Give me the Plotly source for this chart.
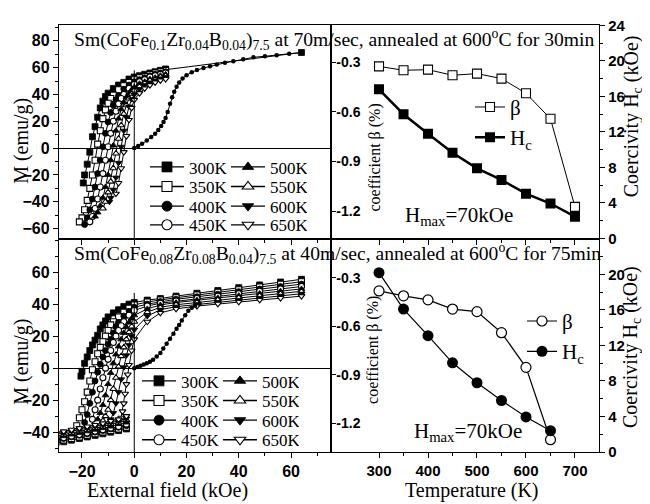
import plotly.graph_objects as go

SERIF = "Liberation Serif"
SANS = "Liberation Sans"

temps = ["300K", "350K", "400K", "450K", "500K", "550K", "600K", "650K"]
sym = ["square", "square", "circle", "circle", "triangle-up", "triangle-up", "triangle-down", "triangle-down"]
filled = [True, False, True, False, True, False, True, False]
legend_row = [0, 1, 2, 3, 0, 1, 2, 3]
legend_rank = [1, 1, 1, 1, 2, 2, 2, 2]

# ---------------- Top-left: 70 m/sec, 30 min -----------------
tl_H = {
    "300K": [64, 12, 10, 8, 6, 4, 2, 0, -2, -4, -6, -8, -10, -11, -12, -13, -14, -15, -16, -17, -18, -19, -19.5],
    "350K": [12, 10, 8, 6, 4, 2, 0, -2, -4, -6, -8, -9, -10, -11, -12, -13, -14, -15, -16, -17, -18, -19, -20, -21],
    "400K": [12, 10, 8, 6, 4, 2, 0, -2, -4, -6, -7, -8, -9, -10, -11, -12, -13, -14, -15, -16, -17, -18, -19],
    "450K": [12, 10, 8, 6, 4, 2, 0, -2, -4, -5, -6, -7, -8, -9, -10, -11, -12, -13, -14, -15, -16, -17],
    "500K": [12, 10, 8, 6, 4, 2, 0, -1, -2, -3, -4, -5, -6, -7, -8, -9, -10, -11, -12, -13, -14, -15],
    "550K": [12, 10, 8, 6, 4, 2, 0, -1, -2, -3, -4, -5, -6, -7, -8, -9, -10, -11, -12],
    "600K": [12, 10, 8, 6, 4, 2, 0, -1, -2, -3, -4, -5, -6, -7, -8, -9, -9.5],
    "650K": [12, 10, 8, 6, 4, 2, 0, -1, -2, -3, -4, -5, -6, -7],
}
tl_M = {
    "300K": [71.3, 59, 58, 57, 56, 55, 54, 53, 51.5, 49, 47, 44.5, 41, 38.5, 35, 30, 23, 16, 8.5, -3, -12, -20, -26],
    "350K": [58, 57, 56, 55, 53.5, 52.5, 51, 49, 46.5, 43.5, 39.5, 37, 33.5, 28.5, 22, 13, 3, -9, -20, -30, -39, -46, -52, -55],
    "400K": [57, 56, 55, 54, 52.5, 51, 49.5, 47, 44, 39, 36, 32, 26.5, 19.5, 11, 1, -9, -19, -29, -38, -46, -52, -57],
    "450K": [56, 55, 54, 53, 51, 49.5, 47.5, 44.5, 40, 37, 33, 27.5, 20, 11, 1, -9, -19, -29, -38, -45, -51, -55],
    "500K": [55, 54, 52.5, 51.5, 49.5, 48, 45.5, 43.5, 41, 38, 34, 29, 22, 13, 2, -9, -20, -29, -37, -43, -48, -51],
    "550K": [54, 53, 51.5, 50.5, 48.5, 46, 43, 40.5, 37, 32, 25.5, 17, 7, -4, -15, -25, -33, -40, -45],
    "600K": [53, 52, 50.5, 49, 47, 44, 40, 36.5, 31, 23, 13, 1, -11, -22, -31, -37, -40],
    "650K": [51.5, 50.5, 49, 47, 44.5, 41, 36, 30, 21, 9, -3, -15, -26, -34],
}
tl_virgin_H = [0, 1.5, 3, 4.8, 6.5, 8, 9.2, 10.3, 11.2, 12, 12.8, 13.7, 14.5, 15.3, 16.2, 17.2, 18.5, 20, 22, 24,
               26.5, 29, 31.6, 34.7, 37.9, 41.7, 45.6, 50, 54.5, 59.3, 64.1]
tl_virgin_M = [0, 1.5, 3.2, 5.6, 8.2, 10.8, 13.5, 16.5, 19.5, 22.5, 27, 33, 38, 42, 45.8, 49, 52, 54.3, 56.5, 58.2,
               59.7, 61, 62.3, 63.6, 64.7, 66.2, 67.7, 68.5, 69.3, 70.3, 71.3]

# ---------------- Bottom-left: 40 m/sec, 75 min -----------------
bl_H = {
    "300K": [64, 56, 48, 40, 32, 24, 16, 10, 5, 0, -2, -4, -6, -8, -10, -11, -12, -13, -14, -15, -16, -17, -18, -19, -20, -20.4],
    "350K": [64, 56, 48, 40, 32, 24, 16, 10, 5, 0, -2, -4, -6, -8, -9, -10, -11, -12, -13, -14, -15, -16, -17, -18, -19, -20, -21, -22],
    "400K": [64, 56, 48, 40, 32, 24, 16, 10, 5, 0, -2, -4, -6, -7, -8, -9, -10, -11, -12, -13, -14, -15, -16, -17, -18, -19],
    "450K": [64, 56, 48, 40, 32, 24, 16, 10, 5, 0, -2, -4, -5, -6, -7, -8, -9, -10, -11, -12, -13, -14, -15, -16],
    "500K": [64, 56, 48, 40, 32, 24, 16, 10, 5, 0, -1, -2, -3, -4, -5, -6, -7, -8, -9, -10, -11, -12, -13, -14],
    "550K": [64, 56, 48, 40, 32, 24, 16, 10, 5, 0, -1, -2, -3, -4, -5, -6, -7, -8, -9, -10, -11, -12],
    "600K": [64, 56, 48, 40, 32, 24, 16, 10, 5, 0, -1, -2, -3, -4, -5, -6, -7, -8, -9],
    "650K": [64, 56, 48, 40, 32, 24, 16, 10, 5, 0, -1, -2, -2.5, -3, -3.5, -4, -4.5, -5],
}
bl_M = {
    "300K": [55.5, 53.8, 52, 50.3, 48.5, 46.8, 45, 43.5, 42.5, 41, 40, 38.5, 36.5, 34.5, 32, 29.5, 27, 24.5, 20.5, 17.5, 14.5, 11, 7, 3, -2, -5],
    "350K": [54, 52.4, 50.7, 49, 47.4, 45.7, 44, 42.6, 41.3, 39.5, 37.5, 35, 32, 29, 27, 23.5, 20, 16.5, 13, 9, 4, -1, -8, -15, -21, -26, -31, -36],
    "400K": [52.5, 51, 49.4, 47.8, 46.2, 44.6, 43, 41.6, 40, 38, 35.5, 32.5, 28.5, 26, 22, 18, 15, 11, 7, 2.5, -2.5, -8, -15, -22, -29, -34],
    "450K": [51, 49.5, 48, 46.5, 45, 43.5, 42, 40.6, 38.8, 36, 33, 29, 26.5, 23.5, 20, 16, 11, 5.5, 0, -6, -13, -20, -26, -32],
    "500K": [49.5, 48.1, 46.7, 45.3, 43.9, 42.5, 41, 39.5, 37, 33, 31, 28.5, 25.5, 22, 18, 13.5, 8.5, 3, -3, -10, -17, -23, -28, -32],
    "550K": [48, 46.6, 45.3, 44, 42.6, 41.2, 39.6, 38, 35, 29, 26, 22.5, 18, 13, 7.5, 1, -6, -13, -20, -26, -30, -33],
    "600K": [46.5, 45.2, 43.9, 42.6, 41.3, 40, 38.4, 36.5, 32.5, 24, 20, 14.5, 8, 0.5, -7, -15, -22, -28, -32],
    "650K": [45, 43.8, 42.6, 41.4, 40.2, 38.8, 37, 34.5, 29, 18, 11, 2, -4, -10, -16, -22, -27, -31],
}
bl_band_H = [-30, -27, -24, -21, -18, -15, -12, -9, -6, -3]
bl_band_M = {
    "300K": [-47, -46, -45, -44, -43, -42, -41, -40, -39, -38],
    "350K": [-46, -45, -44, -43, -42, -41, -40, -39, -38, -37],
    "400K": [-45, -44, -43, -42, -41, -40, -39, -38, -37, -36],
    "450K": [-44.5, -43.5, -42.5, -41.5, -40.5, -39.5, -38.5, -37.5, -36.5, -35],
    "500K": [-43.5, -42.5, -41.5, -40.5, -39.5, -38.5, -37.5, -36.5, -35, -34],
    "550K": [-42.5, -41.5, -40.5, -39.5, -38.5, -37.5, -36.5, -35, -34, -32.5],
    "600K": [-41.5, -40.5, -39.5, -38.5, -37.5, -36.5, -35.5, -34, -33, -31.5],
    "650K": [-40.5, -39.5, -38.5, -37.5, -36.5, -35.5, -34.5, -33, -32, -30],
}
bl_virgin_H = [0, 1.2, 2.4, 3.6, 4.8, 6, 7.2, 8.6, 10, 11.1, 12.4, 13.7, 15, 16.2, 17.2, 18.2, 19.5, 20.7, 22, 23.3, 25]
bl_virgin_M = [0, 0.7, 1.5, 2.3, 3.1, 4, 5.3, 7.2, 9.5, 12.3, 15.3, 18.4, 21.5, 24.6, 27, 29.7, 33, 35.9, 37.8, 39, 40.3]

# ---------------- Right panels -----------------
tr_T = [300, 350, 400, 450, 500, 550, 600, 650, 700]
tr_beta = [-0.325, -0.349, -0.345, -0.379, -0.369, -0.399, -0.488, -0.642, -1.175]
tr_hc = [16.8, 14.0, 11.8, 9.65, 7.9, 6.6, 5.05, 3.94, 2.46]
br_T = [300, 350, 400, 450, 500, 550, 600, 650]
br_beta = [-0.381, -0.411, -0.436, -0.493, -0.509, -0.639, -0.853, -1.30]
br_hc = [20.2, 16.1, 13.1, 10.05, 7.8, 5.8, 3.95, 2.4]

# tick labels
tl_yticks = [-60, -40, -20, 0, 20, 40, 60, 80]
bl_yticks = [-40, -20, 0, 20, 40, 60]
beta_ticks = [-1.2, -0.9, -0.6, -0.3]
beta_ticktext = ["-1.2", "-0.9", "-0.6", "-0.3"]
hc_top_ticks = [0, 4, 8, 12, 16, 20, 24]
hc_bot_ticks = [0, 4, 8, 12, 16, 20]
t_ticks = [300, 400, 500, 600, 700]

# axis ranges
tl_xr = [-28.8, 75.3]
tl_yr = [-67.4, 91.8]
bl_yr = [-52.4, 81.0]
r_xr = [202, 749]
tr_br = [-1.366, -0.075]
br_br = [-1.376, -0.057]
hc_r = [0, 24.05]
tl_vline_top = 58
bl_vline_top = 47

fig = go.Figure()


def marker(i, size):
    if filled[i]:
        return dict(symbol=sym[i], size=size, color="black", line=dict(color="black", width=0.8))
    return dict(symbol=sym[i], size=size, color="white", line=dict(color="black", width=1.1))


# Top-left loops
for i, t in enumerate(temps):
    fig.add_trace(go.Scatter(x=tl_H[t], y=tl_M[t], mode="lines+markers", xaxis="x", yaxis="y",
                             line=dict(color="black", width=1), marker=marker(i, 6), showlegend=False))
fig.add_trace(go.Scatter(x=tl_virgin_H, y=tl_virgin_M, mode="lines+markers", xaxis="x", yaxis="y",
                         line=dict(color="black", width=1), marker=dict(symbol="circle", size=4.5, color="black"),
                         showlegend=False))
# Bottom-left loops
for i, t in enumerate(temps):
    fig.add_trace(go.Scatter(x=bl_H[t] + [None] + bl_band_H, y=bl_M[t] + [None] + bl_band_M[t],
                             mode="lines+markers", xaxis="x3", yaxis="y4",
                             line=dict(color="black", width=1), marker=marker(i, 6), showlegend=False))
fig.add_trace(go.Scatter(x=bl_virgin_H, y=bl_virgin_M, mode="lines+markers", xaxis="x3", yaxis="y4",
                         line=dict(color="black", width=1), marker=dict(symbol="circle", size=4.5, color="black"),
                         showlegend=False))

# Legend entries for the loop panels (one small legend per row of the two-column key)
for i, t in enumerate(temps):
    for base, xa, ya in ((1, "x", "y"), (5, "x3", "y4")):
        n = base + legend_row[i]
        lname = "legend" if n == 1 else "legend%d" % n
        fig.add_trace(go.Scatter(x=[None], y=[None], mode="lines+markers", xaxis=xa, yaxis=ya,
                                 line=dict(color="black", width=1.3), marker=marker(i, 10),
                                 name=t, legend=lname, legendrank=legend_rank[i]))

# Top-right
fig.add_trace(go.Scatter(x=tr_T, y=tr_beta, mode="lines+markers", xaxis="x2", yaxis="y2", name="β",
                         line=dict(color="black", width=1),
                         marker=dict(symbol="square", size=9, color="white", line=dict(color="black", width=1.1)),
                         legend="legend9", legendrank=1))
fig.add_trace(go.Scatter(x=tr_T, y=tr_hc, mode="lines+markers", xaxis="x2", yaxis="y3", name="H<sub>c</sub>",
                         line=dict(color="black", width=2.5),
                         marker=dict(symbol="square", size=10, color="black"),
                         legend="legend9", legendrank=2))
# Bottom-right
fig.add_trace(go.Scatter(x=br_T, y=br_beta, mode="lines+markers", xaxis="x4", yaxis="y5", name="β",
                         line=dict(color="black", width=1.2),
                         marker=dict(symbol="circle", size=10, color="white", line=dict(color="black", width=1.2)),
                         legend="legend10", legendrank=1))
fig.add_trace(go.Scatter(x=br_T, y=br_hc, mode="lines+markers", xaxis="x4", yaxis="y6", name="H<sub>c</sub>",
                         line=dict(color="black", width=1.2),
                         marker=dict(symbol="circle", size=11, color="black"),
                         legend="legend10", legendrank=2))


def axis(**kw):
    d = dict(showline=True, linecolor="black", linewidth=1.3, mirror=True, ticks="outside", ticklen=5,
             tickwidth=1.2, tickcolor="black", showgrid=False, zeroline=False,
             tickfont=dict(family=SANS, size=16, color="black", weight="bold"))
    d.update(kw)
    return d


minor_l = dict(ticks="outside", ticklen=3, tickcolor="black", tickwidth=1, showgrid=False)
XS = 0.5037
PW, PH, PT, PB = 540, 435, 9, 52


def py(px_y):
    # page pixel (figure drawn 8px in from the page corner) -> paper fraction
    return (452 - px_y) / PH


def px(px_x):
    return (px_x - 59) / PW


def row_legend(x_px, y_px, size=17):
    return dict(x=px(x_px), y=py(y_px), xanchor="left", yanchor="middle", bgcolor="rgba(0,0,0,0)",
                borderwidth=0, font=dict(family=SERIF, size=size, color="black"), orientation="h",
                traceorder="normal", entrywidth=32, entrywidthmode="pixels", itemwidth=34)


def col_legend(x_px, y_px, size=21):
    return dict(x=px(x_px), y=py(y_px), xanchor="left", yanchor="top", bgcolor="rgba(0,0,0,0)",
                borderwidth=0, font=dict(family=SERIF, size=size, color="black"), orientation="v",
                traceorder="normal", tracegroupgap=0)


tl_rows = [162, 182, 202, 221]
bl_rows = [380, 400, 420, 440]
legends = {}
for k in range(4):
    legends["legend" if k == 0 else "legend%d" % (k + 1)] = row_legend(145, tl_rows[k])
    legends["legend%d" % (k + 5)] = row_legend(137, bl_rows[k])
legends["legend9"] = col_legend(470, 80)
legends["legend10"] = col_legend(522, 298)

fig.update_layout(
    width=650 - 8, height=504 - 8,
    margin=dict(l=51, r=51, t=PT, b=PB),
    paper_bgcolor="white", plot_bgcolor="white",
    xaxis=axis(domain=[0, XS], range=tl_xr, anchor="y", showticklabels=False, dtick=20, tick0=0,
               minor=dict(minor_l, dtick=10)),
    yaxis=axis(domain=[0.5, 1], range=tl_yr, anchor="x", tickvals=tl_yticks, zeroline=True,
               zerolinecolor="black", zerolinewidth=1, minor=dict(minor_l, dtick=10)),
    xaxis2=axis(domain=[XS, 1], range=r_xr, anchor="y2", showticklabels=False, dtick=100, tick0=0,
                minor=dict(minor_l, dtick=50)),
    yaxis2=axis(domain=[0.5, 1], range=tr_br, anchor="x2", tickvals=beta_ticks,
                ticktext=beta_ticktext, ticks="inside", ticklabelposition="inside",
                mirror=False, tickfont=dict(family=SANS, size=14, color="black", weight="bold")),
    yaxis3=axis(overlaying="y2", side="right", anchor="x2", range=hc_r, tickvals=hc_top_ticks, mirror=False,
                minor=dict(minor_l, dtick=2), tickfont=dict(family=SANS, size=15, color="black", weight="bold")),
    xaxis3=axis(domain=[0, XS], range=tl_xr, anchor="y4", dtick=20, tick0=0, minor=dict(minor_l, dtick=10)),
    yaxis4=axis(domain=[0, 0.5], range=bl_yr, anchor="x3", tickvals=bl_yticks, zeroline=True,
                zerolinecolor="black", zerolinewidth=1, minor=dict(minor_l, dtick=10)),
    xaxis4=axis(domain=[XS, 1], range=r_xr, anchor="y5", minor=dict(minor_l, dtick=50),
                tickvals=t_ticks,
                tickfont=dict(family=SANS, size=15, color="black", weight="bold")),
    yaxis5=axis(domain=[0, 0.5], range=br_br, anchor="x4", tickvals=beta_ticks,
                ticktext=beta_ticktext, ticks="inside", ticklabelposition="inside",
                mirror=False, tickfont=dict(family=SANS, size=14, color="black", weight="bold")),
    yaxis6=axis(overlaying="y5", side="right", anchor="x4", range=hc_r, tickvals=hc_bot_ticks,
                mirror=False, minor=dict(minor_l, dtick=2),
                tickfont=dict(family=SANS, size=15, color="black", weight="bold")),
    showlegend=True,
    **legends,
)

# Vertical H=0 lines in the loop panels
fig.add_shape(type="line", xref="x", yref="y", x0=0, x1=0, y0=tl_yr[0], y1=tl_vline_top,
              line=dict(color="black", width=1))
fig.add_shape(type="line", xref="x3", yref="y4", x0=0, x1=0, y0=bl_yr[0], y1=bl_vline_top,
              line=dict(color="black", width=1))

ann = []
ann.append(dict(text="Sm(CoFe<sub>0.1</sub>Zr<sub>0.04</sub>B<sub>0.04</sub>)<sub>7.5</sub> at 70m/sec, annealed at 600<sup>o</sup>C for 30min",
                x=px(72), y=py(16), xanchor="left", yanchor="top", font=dict(family=SERIF, size=19.6)))
ann.append(dict(text="Sm(CoFe<sub>0.08</sub>Zr<sub>0.08</sub>B<sub>0.04</sub>)<sub>7.5</sub> at 40m/sec, annealed at 600<sup>o</sup>C for 75min",
                x=px(72), y=py(234), xanchor="left", yanchor="top", font=dict(family=SERIF, size=19.6)))
ann.append(dict(text="H<sub>max</sub>=70kOe", x=px(403), y=py(212), xanchor="left", yanchor="middle",
                font=dict(family=SERIF, size=21)))
ann.append(dict(text="H<sub>max</sub>=70kOe", x=px(412), y=py(432), xanchor="left", yanchor="middle",
                font=dict(family=SERIF, size=21)))
ann.append(dict(text="coefficient β (%)", x=px(375), y=py(152), textangle=-90, xanchor="center", yanchor="middle",
                font=dict(family=SERIF, size=16)))
ann.append(dict(text="coefficient β (%)", x=px(373), y=py(348), textangle=-90, xanchor="center", yanchor="middle",
                font=dict(family=SERIF, size=16)))
ann.append(dict(text="Coercivity H<sub>c</sub> (kOe)", x=px(632), y=py(110), textangle=-90, xanchor="center",
                yanchor="middle", font=dict(family=SERIF, size=20)))
ann.append(dict(text="Coercivity H<sub>c</sub> (kOe)", x=px(632), y=py(345), textangle=-90, xanchor="center",
                yanchor="middle", font=dict(family=SERIF, size=20)))
ann.append(dict(text="M (emu/g)", x=px(22), y=py(135), textangle=-90, xanchor="center", yanchor="middle",
                font=dict(family=SERIF, size=20)))
ann.append(dict(text="M (emu/g)", x=px(22), y=py(360), textangle=-90, xanchor="center", yanchor="middle",
                font=dict(family=SERIF, size=20)))
ann.append(dict(text="External field (kOe)", x=px(167), y=py(491), xanchor="center", yanchor="middle",
                font=dict(family=SERIF, size=20)))
ann.append(dict(text="Temperature (K)", x=px(472), y=py(491), xanchor="center", yanchor="middle",
                font=dict(family=SERIF, size=20)))
for a in ann:
    a.update(xref="paper", yref="paper", showarrow=False)
    a["font"]["color"] = "black"
fig.update_layout(annotations=ann)

fig.write_html("out.html")
